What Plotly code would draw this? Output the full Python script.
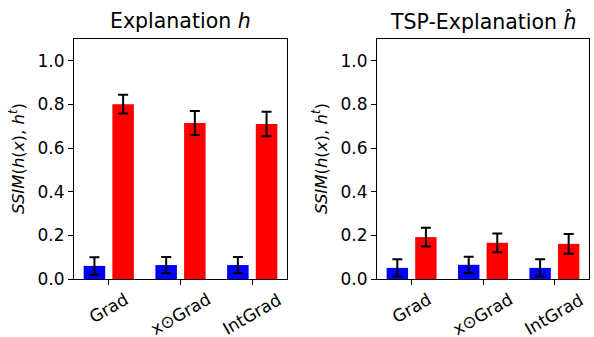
import plotly.graph_objects as go
import math

W, H = 594, 337

methods = ["Grad", "x⊙Grad", "IntGrad"]

# Panel 1: Explanation h
exp_blue = [0.060, 0.064, 0.064]
exp_blue_err = [0.040, 0.037, 0.037]
exp_red = [0.801, 0.715, 0.710]
exp_red_err = [0.043, 0.055, 0.056]

# Panel 2: TSP-Explanation h-hat
tsp_blue = [0.051, 0.065, 0.051]
tsp_blue_err = [0.040, 0.037, 0.040]
tsp_red = [0.192, 0.166, 0.161]
tsp_red_err = [0.043, 0.043, 0.045]

titles = ["Explanation <i>h</i>", "TSP-Explanation <i>ĥ</i>"]
yticks = [0.0, 0.2, 0.4, 0.6, 0.8, 1.0]
ylabel = "<i>SSIM</i>(<i>h</i>(<i>x</i>), <i>h</i><sup><i>t</i></sup>)"

FONT = "DejaVu Sans"
BLUE = "#0000ff"
RED = "#ff0000"

# pixel layout
ax_top, ax_bot = 39, 279
panels_px = [(74, 287), (377, 589)]
LABEL_FS = 17
ROT = 30

def px_x(p):
    return p / W

def px_y(p):
    return 1 - p / H

def est_width(s):
    # rough text width estimate (wide symbols count double)
    n = sum(2 if ch == "⊙" else 1 for ch in s)
    return n * 0.5 * LABEL_FS

fig = go.Figure()

data = [(exp_blue, exp_blue_err, exp_red, exp_red_err),
        (tsp_blue, tsp_blue_err, tsp_red, tsp_red_err)]

annotations = []
for i, (b, be, r, re_) in enumerate(data):
    xa = "x" if i == 0 else "x2"
    ya = "y" if i == 0 else "y2"
    err_style = dict(type="data", visible=True, color="black", thickness=2, width=5)
    fig.add_trace(go.Bar(x=methods, y=b, width=0.3, offset=-0.35,
                         marker=dict(color=BLUE, line=dict(width=0)),
                         error_y=dict(array=be, **err_style),
                         xaxis=xa, yaxis=ya, showlegend=False, hoverinfo="skip"))
    fig.add_trace(go.Bar(x=methods, y=r, width=0.3, offset=0.05,
                         marker=dict(color=RED, line=dict(width=0)),
                         error_y=dict(array=re_, **err_style),
                         xaxis=xa, yaxis=ya, showlegend=False, hoverinfo="skip"))
    x0, x1 = panels_px[i]
    # title
    annotations.append(dict(text=titles[i], xref="paper", yref="paper",
                            x=px_x((x0 + x1) / 2), y=px_y(21), xanchor="center", yanchor="middle",
                            showarrow=False, font=dict(family=FONT, size=20.5, color="black")))
    # y label
    annotations.append(dict(text=ylabel, xref="paper", yref="paper",
                            x=px_x(x0 - 57), y=px_y((ax_top + ax_bot) / 2), xanchor="center", yanchor="middle",
                            textangle=-90, showarrow=False,
                            font=dict(family=FONT, size=16.5, color="black")))
    # rotated category labels (top of rotated box just under the ticks, like matplotlib)
    for m in methods:
        box_h = est_width(m) * math.sin(math.radians(ROT)) + LABEL_FS * math.cos(math.radians(ROT))
        cy = 292 + box_h / 2
        annotations.append(dict(text=m, xref=xa, yref="paper", x=m, y=px_y(cy),
                                xanchor="center", yanchor="middle", textangle=-ROT, showarrow=False,
                                font=dict(family=FONT, size=LABEL_FS, color="black")))

axis_common = dict(showline=True, linecolor="black", linewidth=1.2, mirror=True,
                   ticks="outside", ticklen=5, tickwidth=1.2, tickcolor="black",
                   showgrid=False, zeroline=False, automargin=False,
                   tickfont=dict(family=FONT, size=17, color="black"))

layout = dict(
    template="none",
    width=W, height=H, margin=dict(l=0, r=0, t=0, b=0, autoexpand=False),
    paper_bgcolor="white", plot_bgcolor="white",
    barmode="overlay", annotations=annotations,
    font=dict(family=FONT, color="black"),
)
for i in range(2):
    x0, x1 = panels_px[i]
    sx = "" if i == 0 else "2"
    layout["xaxis" + sx] = dict(domain=[px_x(x0), px_x(x1)], range=[-0.485, 2.485],
                                 type="category", showticklabels=False,
                                 anchor="y" + sx, **axis_common)
    layout["yaxis" + sx] = dict(domain=[px_y(ax_bot), px_y(ax_top)], range=[0, 1.1],
                                 tickvals=yticks, tickformat=".1f",
                                 anchor="x" + sx, **axis_common)

fig.update_layout(**layout)
fig.write_html("out.html", config={"displayModeBar": False},
               post_script="document.body.style.margin='0';")
